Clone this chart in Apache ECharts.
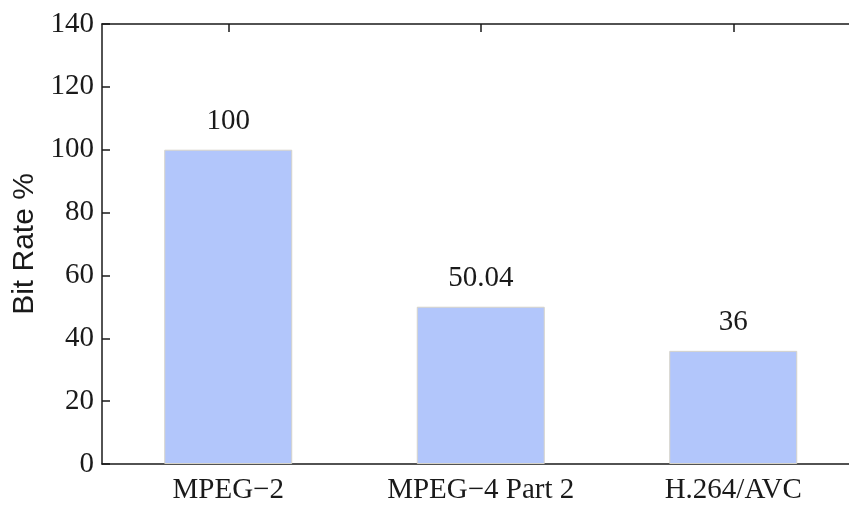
<!DOCTYPE html>
<html>
<head>
<meta charset="utf-8">
<script src="https://cdn.jsdelivr.net/npm/echarts@6/dist/echarts.min.js"></script>
<style>
  html, body { margin: 0; padding: 0; background: #fff; overflow: hidden; }
  /* plot box runs past the right edge of the window, as in the original */
  #chart { width: 870px; height: 506px; }
</style>
</head>
<body>
<div id="chart"></div>
<script>
// codecs and their bit rate relative to MPEG-2
const codecs = ["MPEG\u22122", "MPEG\u22124 Part 2", "H.264/AVC"];
const bitRate = [100, 50.04, 36];
const yTicks = { min: 0, max: 140, step: 20 };

const serif = "Liberation Serif";
const ink = "#1a1a1a";

const chart = echarts.init(document.getElementById("chart"));

const option = {
  animation: false,
  grid: { left: 102, top: 24, width: 757.5, height: 440 },
  xAxis: [
    {
      type: "category",
      data: codecs,
      position: "bottom",
      axisLine: { lineStyle: { color: ink, width: 1.5 } },
      axisTick: { show: false },
      axisLabel: {
        color: ink,
        fontFamily: serif,
        fontSize: 29,
        margin: 12,
      },
    },
    {
      // top border with ticks pointing down
      type: "category",
      data: codecs,
      position: "top",
      axisLine: { lineStyle: { color: ink, width: 1.5 } },
      axisTick: {
        show: true,
        inside: true,
        alignWithLabel: true,
        length: 8,
        lineStyle: { color: ink, width: 1.5 },
      },
      axisLabel: { show: false },
    },
  ],
  yAxis: {
    type: "value",
    min: yTicks.min,
    max: yTicks.max,
    interval: yTicks.step,
    name: "Bit Rate %",
    nameLocation: "middle",
    nameGap: 62,
    nameTextStyle: {
      color: ink,
      fontFamily: "Liberation Sans",
      fontSize: 30,
    },
    axisLine: { show: true, lineStyle: { color: ink, width: 1.5 } },
    axisTick: {
      show: true,
      inside: true,
      length: 8,
      lineStyle: { color: ink, width: 1.5 },
    },
    splitLine: { show: false },
    axisLabel: {
      color: ink,
      fontFamily: serif,
      fontSize: 29,
      margin: 8,
    },
  },
  series: [
    {
      type: "bar",
      data: bitRate,
      barWidth: 128,
      itemStyle: {
        color: "#b2c6fb",
        borderColor: "#d6d3c9",
        borderWidth: 1,
      },
      label: {
        show: true,
        position: "top",
        distance: 14,
        color: ink,
        fontFamily: serif,
        fontSize: 29,
      },
    },
  ],
};

chart.setOption(option);
</script>
</body>
</html>
